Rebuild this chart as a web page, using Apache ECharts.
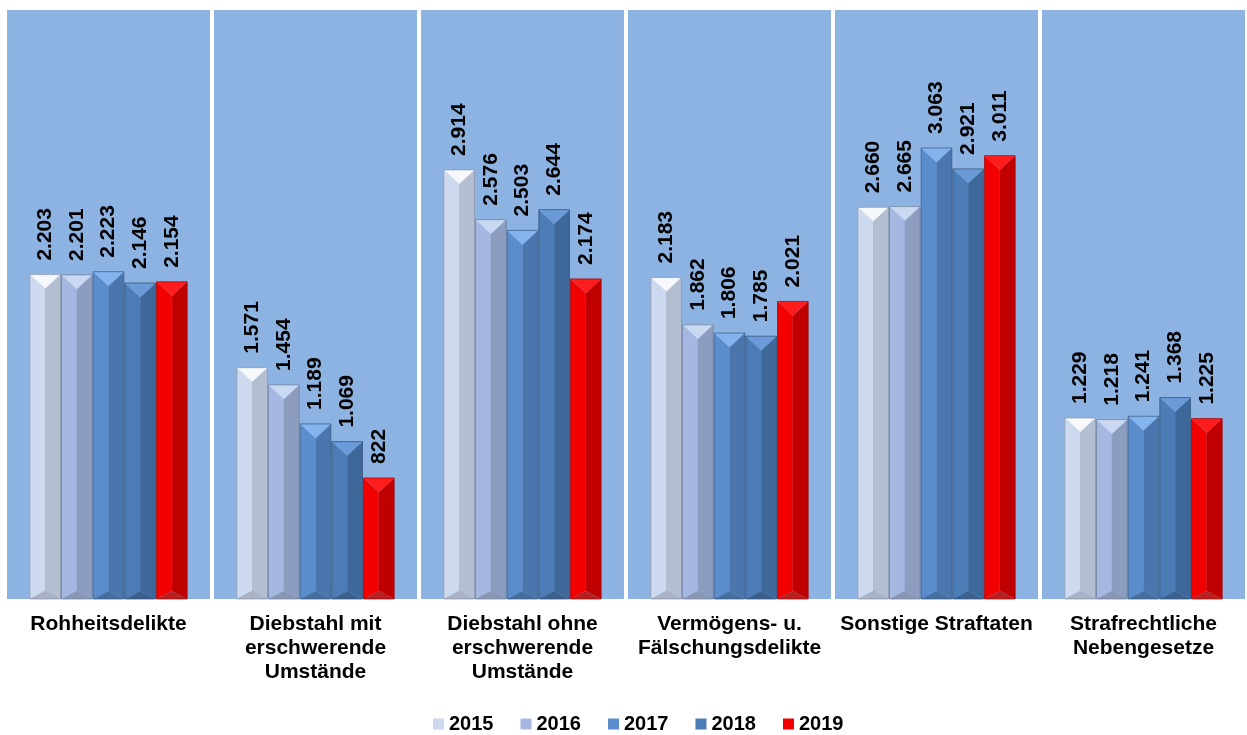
<!DOCTYPE html>
<html>
<head>
<meta charset="utf-8">
<script src="https://cdn.jsdelivr.net/npm/echarts@6/dist/echarts.min.js"></script>
<style>
  html, body { margin: 0; padding: 0; background: #fff; }
  #chart { width: 1247px; height: 735px; }
</style>
</head>
<body>
<div id="chart"></div>
<script>
var categories = [
  "Rohheitsdelikte",
  "Diebstahl mit\nerschwerende\nUmstände",
  "Diebstahl ohne\nerschwerende\nUmstände",
  "Vermögens- u.\nFälschungsdelikte",
  "Sonstige Straftaten",
  "Strafrechtliche\nNebengesetze"
];
var years = ["2015", "2016", "2017", "2018", "2019"];
var v2015 = [2203, 1571, 2914, 2183, 2660, 1229];
var v2016 = [2201, 1454, 2576, 1862, 2665, 1218];
var v2017 = [2223, 1189, 2503, 1806, 3063, 1241];
var v2018 = [2146, 1069, 2644, 1785, 2921, 1368];
var v2019 = [2154, 822, 2174, 2021, 3011, 1225];
var values = [v2015, v2016, v2017, v2018, v2019];

// bevel shades per year: left face, right face, top, bottom
var shades = [
  { left: "#cdd9ee", right: "#b4bed1", top: "#f6f8fc", bottom: "#a9b3c4", edge: "#8c96a8" },
  { left: "#a6b8e1", right: "#8d9dc0", top: "#cad9f2", bottom: "#8897b4", edge: "#6f7d99" },
  { left: "#5b8ccc", right: "#4a76ad", top: "#83b4ee", bottom: "#456f9f", edge: "#36597f" },
  { left: "#4c7cb5", right: "#3f689a", top: "#6a9bd8", bottom: "#3b628f", edge: "#2e4d72" },
  { left: "#f20000", right: "#c00000", top: "#ff1c1c", bottom: "#b82020", edge: "#a00000" }
];

function fmt(n) {
  var s = String(n);
  return s.length > 3 ? s.slice(0, s.length - 3) + "." + s.slice(-3) : s;
}

var chart = echarts.init(document.getElementById("chart"));

function renderBar(params, api) {
  var si = params.seriesIndex;
  var sh = shades[si];
  var cat = api.value(0);
  var val = api.value(1);
  var top = api.coord([cat, val]);
  var base = api.coord([cat, 0]);
  var band = api.size([1, 0])[0];
  var bw = band * 0.765 / 5;
  var x0 = top[0] - 2.5 * bw + si * bw + 0.5;
  var x1 = x0 + bw - 1;
  var xc = (x0 + x1) / 2;
  var yT = top[1], yB = base[1];
  var h = yB - yT;
  var d = Math.min(bw * 0.45, h / 2);
  var d2 = Math.min(bw * 0.25, h / 2);
  return {
    type: "group",
    children: [
      { type: "polygon", shape: { points: [[x0, yT], [xc, yT + d], [xc, yB - d2], [x0, yB]] }, style: { fill: sh.left } },
      { type: "polygon", shape: { points: [[x1, yT], [xc, yT + d], [xc, yB - d2], [x1, yB]] }, style: { fill: sh.right } },
      { type: "polygon", shape: { points: [[x0, yT], [x1, yT], [xc, yT + d]] }, style: { fill: sh.top } },
      { type: "polygon", shape: { points: [[x0, yB], [x1, yB], [xc, yB - d2]] }, style: { fill: sh.bottom } },
      { type: "rect", shape: { x: x0, y: yT, width: x1 - x0, height: h }, style: { fill: null, stroke: sh.edge, lineWidth: 1, opacity: 0.7 } },
      {
        type: "text",
        x: xc,
        y: yT - 14,
        rotation: Math.PI / 2,
        style: {
          text: fmt(val),
          fill: "#000",
          fontSize: 21,
          fontWeight: "bold",
          fontFamily: "Arial, 'Liberation Sans', sans-serif",
          align: "left",
          verticalAlign: "middle"
        }
      }
    ]
  };
}

var series = years.map(function (y, i) {
  return {
    name: y,
    type: "custom",
    renderItem: renderBar,
    itemStyle: { color: shades[i].left },
    encode: { x: 0, y: 1 },
    data: values[i].map(function (v, k) { return [k, v]; })
  };
});

var option = {
  animation: false,
  grid: { left: 5, top: 10, width: 1248, height: 589 },
  legend: {
    data: years,
    left: 428,
    top: 709,
    icon: "rect",
    itemWidth: 11,
    itemHeight: 11,
    itemGap: 27,
    textStyle: { fontSize: 20, fontWeight: "bold", color: "#000", fontFamily: "Arial, 'Liberation Sans', sans-serif" }
  },
  xAxis: {
    type: "category",
    data: categories,
    axisLine: { show: false },
    axisTick: { show: false },
    splitArea: { show: true, interval: 0, areaStyle: { color: ["#8DB3E2"] } },
    splitLine: { show: true, interval: 0, lineStyle: { color: "#fff", width: 4 } },
    axisLabel: {
      interval: 0,
      margin: 13,
      color: "#000",
      fontSize: 21,
      fontWeight: "bold",
      lineHeight: 24,
      fontFamily: "Arial, 'Liberation Sans', sans-serif"
    }
  },
  yAxis: { type: "value", min: 0, max: 4000, show: false },
  series: series
};

chart.setOption(option);
</script>
</body>
</html>
